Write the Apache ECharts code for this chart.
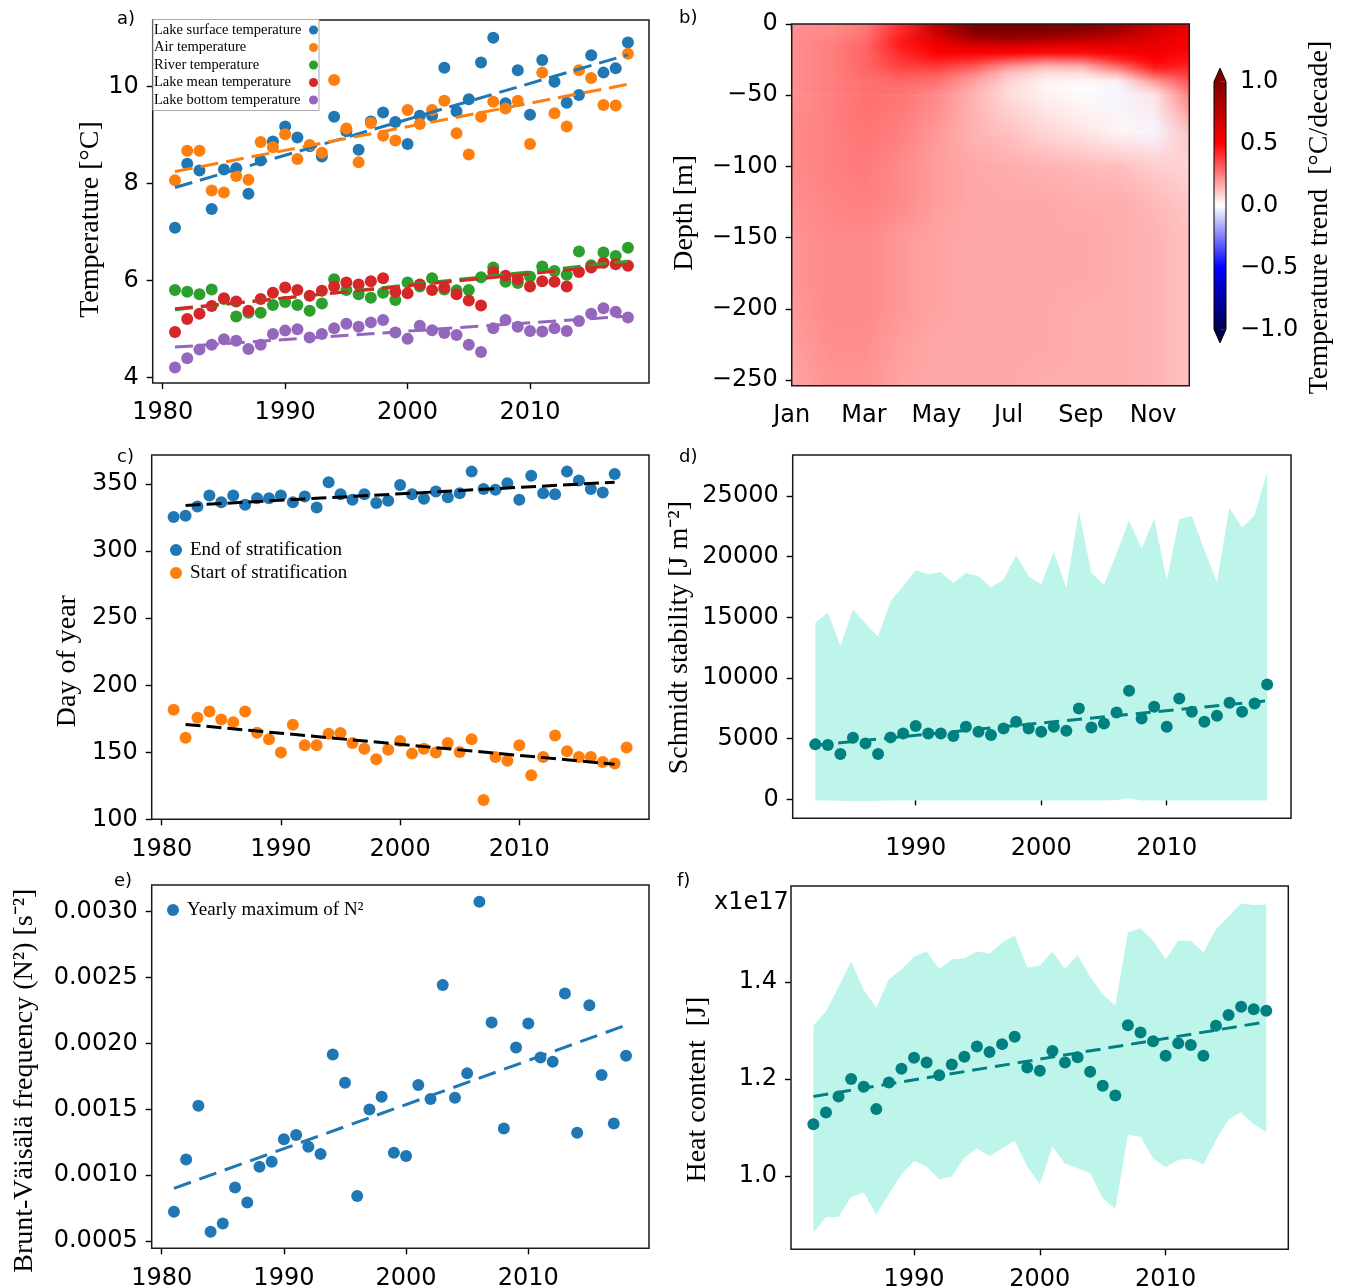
<!DOCTYPE html>
<html>
<head>
<meta charset="utf-8">
<script src="https://cdn.jsdelivr.net/npm/echarts@6.0.0/dist/echarts.min.js"></script>
<style>
html, body { margin: 0; padding: 0; background: #fff; }
#main { width: 1349px; height: 1288px; }
</style>
</head>
<body>
<div id="main"></div>
<script>
var SERIF = 'Liberation Serif', SANS = 'DejaVu Sans';

// ---- data ----
var years = [1981, 1982, 1983, 1984, 1985, 1986, 1987, 1988, 1989, 1990, 1991, 1992, 1993, 1994, 1995, 1996, 1997, 1998, 1999,
  2000, 2001, 2002, 2003, 2004, 2005, 2006, 2007, 2008, 2009, 2010, 2011, 2012, 2013, 2014, 2015, 2016, 2017, 2018];
var years82 = years.slice(1);
var years19 = years.concat([2019]);

// a) temperatures [°C]
var surfaceT = [7.09, 8.41, 8.27, 7.48, 8.29, 8.32, 7.79, 8.48, 8.87, 9.18, 8.95, 8.77, 8.56, 9.38, 9.08, 8.70, 9.28, 9.47, 9.27,
  8.82, 9.40, 9.40, 10.39, 9.49, 9.74, 10.50, 11.01, 9.66, 10.34, 9.42, 10.55, 10.10, 9.67, 9.83, 10.65, 10.29, 10.38, 10.91];
var airT = [8.07, 8.68, 8.68, 7.86, 7.82, 8.16, 8.08, 8.86, 8.75, 9.02, 8.51, 8.80, 8.64, 10.14, 9.14, 8.44, 9.25, 8.99, 8.89,
  9.52, 9.23, 9.52, 9.71, 9.04, 8.60, 9.38, 9.69, 9.55, 9.71, 8.82, 10.29, 9.45, 9.18, 10.34, 10.18, 9.62, 9.61, 10.68];
var riverT = [5.81, 5.77, 5.72, 5.82, 5.62, 5.26, 5.34, 5.34, 5.50, 5.56, 5.50, 5.38, 5.53, 6.03, 5.81, 5.72, 5.65, 5.75, 5.60,
  5.96, 5.88, 6.05, 5.82, 5.80, 5.81, 6.07, 6.27, 5.98, 5.95, 6.08, 6.29, 6.20, 6.12, 6.60, 6.32, 6.58, 6.51, 6.68];
var meanT = [4.94, 5.21, 5.32, 5.48, 5.64, 5.57, 5.38, 5.62, 5.75, 5.86, 5.81, 5.69, 5.79, 5.88, 5.96, 5.92, 5.99, 6.05, 5.77,
  5.74, 5.92, 5.81, 5.86, 5.72, 5.59, 5.49, 6.18, 6.10, 6.03, 5.88, 5.99, 5.98, 5.88, 6.18, 6.27, 6.37, 6.34, 6.31];
var bottomT = [4.21, 4.40, 4.58, 4.68, 4.79, 4.76, 4.59, 4.68, 4.90, 4.97, 5.00, 4.83, 4.90, 5.02, 5.11, 5.05, 5.14, 5.19, 4.93,
  4.80, 5.07, 4.98, 4.92, 4.88, 4.68, 4.53, 5.02, 5.19, 5.05, 4.96, 4.95, 5.02, 4.96, 5.17, 5.32, 5.43, 5.36, 5.24];
// trend line ends (1981, 2018)
var surfaceFit = [7.92, 10.66];
var airFit = [8.25, 10.05];
var riverFit = [5.40, 6.40];
var meanFit = [5.42, 6.34];
var bottomFit = [4.63, 5.27];

// b) temperature trend [°C/decade], month x depth
var months = ['Jan', 'Feb', 'Mar', 'Apr', 'May', 'Jun', 'Jul', 'Aug', 'Sep', 'Oct', 'Nov', 'Dec'];
var depthUpper = [0, 5, 10, 15, 20, 25, 30, 35, 40, 45, 50];
var trendUpper = [
  [0.22, 0.22, 0.26, 0.42, 0.75, 1.00, 1.10, 1.05, 1.00, 0.90, 0.70, 0.55],
  [0.22, 0.23, 0.27, 0.42, 0.72, 1.00, 1.05, 1.00, 0.95, 0.85, 0.68, 0.55],
  [0.22, 0.24, 0.28, 0.45, 0.62, 0.85, 0.90, 0.85, 0.78, 0.72, 0.62, 0.52],
  [0.22, 0.25, 0.30, 0.45, 0.55, 0.65, 0.65, 0.62, 0.60, 0.60, 0.58, 0.50],
  [0.22, 0.25, 0.30, 0.42, 0.50, 0.52, 0.50, 0.48, 0.48, 0.52, 0.55, 0.48],
  [0.22, 0.25, 0.30, 0.40, 0.45, 0.42, 0.35, 0.30, 0.32, 0.42, 0.50, 0.46],
  [0.22, 0.25, 0.30, 0.37, 0.38, 0.32, 0.20, 0.14, 0.15, 0.28, 0.45, 0.43],
  [0.22, 0.25, 0.29, 0.33, 0.32, 0.24, 0.12, 0.06, 0.06, 0.14, 0.34, 0.39],
  [0.22, 0.25, 0.28, 0.30, 0.28, 0.19, 0.09, 0.03, 0.02, 0.03, 0.20, 0.34],
  [0.22, 0.25, 0.28, 0.28, 0.25, 0.16, 0.07, 0.02, 0.00, -0.02, 0.11, 0.30],
  [0.22, 0.25, 0.28, 0.27, 0.23, 0.15, 0.07, 0.03, 0.01, -0.02, 0.05, 0.25]
];
var depthLower = [50, 75, 100, 125, 150, 175, 200, 225, 250];
var trendLower = [
  [0.22, 0.25, 0.28, 0.27, 0.23, 0.15, 0.07, 0.03, 0.01, -0.02, 0.05, 0.25],
  [0.23, 0.25, 0.27, 0.25, 0.20, 0.15, 0.12, 0.08, 0.05, 0.02, -0.02, 0.12],
  [0.23, 0.25, 0.26, 0.23, 0.19, 0.17, 0.16, 0.15, 0.14, 0.13, 0.10, 0.08],
  [0.22, 0.24, 0.25, 0.23, 0.19, 0.17, 0.17, 0.17, 0.16, 0.16, 0.14, 0.11],
  [0.21, 0.23, 0.23, 0.20, 0.18, 0.17, 0.17, 0.17, 0.17, 0.16, 0.15, 0.12],
  [0.21, 0.23, 0.23, 0.20, 0.18, 0.17, 0.17, 0.17, 0.17, 0.16, 0.15, 0.12],
  [0.20, 0.23, 0.23, 0.20, 0.18, 0.17, 0.17, 0.17, 0.16, 0.16, 0.15, 0.12],
  [0.19, 0.22, 0.22, 0.19, 0.17, 0.17, 0.17, 0.17, 0.16, 0.16, 0.15, 0.12],
  [0.18, 0.21, 0.21, 0.18, 0.17, 0.17, 0.17, 0.16, 0.16, 0.16, 0.15, 0.12]
];
var cbTicks = [-1, -0.5, 0, 0.5, 1];

// c) stratification day of year
var endStrat = [325.5, 326.5, 333.4, 341.6, 336.6, 341.6, 334.7, 339.6, 339.6, 341.6, 336.6, 340.8, 332.7, 351.5, 342.6, 338.4,
  342.6, 335.9, 337.6, 349.5, 342.6, 339.1, 344.6, 340.3, 343.3, 359.4, 346.5, 345.8, 350.7, 338.4, 356.4, 343.3, 342.6, 359.4,
  352.7, 346.5, 343.8, 357.7];
var startStrat = [181.7, 160.9, 175.7, 180.4, 174.5, 172.5, 180.4, 164.6, 159.7, 149.8, 170.5, 155.2, 155.2, 163.9, 164.4, 156.9,
  152.7, 144.8, 151.9, 158.4, 149.0, 152.7, 149.8, 156.9, 150.2, 159.7, 114.4, 146.5, 143.6, 155.2, 132.9, 146.5, 162.6, 150.7,
  146.5, 146.5, 142.8, 141.6, 153.5];
var endFit = [334.2, 351.5];     // 1982, 2018
var startFit = [170.8, 141.1];   // 1982, 2018

// d) Schmidt stability [J m-2], 1982-2018
var schmidt = [4528, 4473, 3732, 5076, 4610, 3732, 5104, 5433, 6037, 5433, 5433, 5214, 5982, 5570, 5296, 5845, 6394, 5845, 5570,
  5982, 5652, 7491, 5927, 6256, 7162, 8945, 6668, 7628, 5982, 8314, 7217, 6394, 6887, 7958, 7217, 7903, 9467];
var schmidtHi = [14543, 15394, 12650, 15641, 14488, 13391, 16327, 17589, 18879, 18550, 18742, 17836, 18659, 18385, 17452, 18110,
  20113, 18385, 17726, 20388, 17424, 23736, 18659, 17699, 20251, 22995, 20662, 23132, 18055, 23077, 23352, 20525, 17918, 24037,
  22391, 23406, 26973];
var schmidtLo = [-100, -100, -110, -150, -130, -110, -100, -100, -100, -100, -100, -100, -100, -100, -100, -100, -100, -100, -90,
  -100, -100, -100, -100, -100, -60, 80, -90, -100, -100, -100, -100, -100, -100, -100, -100, -100, -100];
var schmidtFit = [4450, 8120];

// e) yearly maximum of N2 [s-2]
var n2max = [0.000723, 0.001120, 0.001527, 0.000571, 0.000634, 0.000907, 0.000793, 0.001064, 0.001102, 0.001272, 0.001305,
  0.001216, 0.001160, 0.001917, 0.001702, 0.000842, 0.001499, 0.001596, 0.001170, 0.001145, 0.001684, 0.001578, 0.002443,
  0.001588, 0.001773, 0.003076, 0.002160, 0.001355, 0.001970, 0.002152, 0.001894, 0.001861, 0.002380, 0.001322, 0.002291,
  0.001760, 0.001393, 0.001907];
var n2Fit = [0.000900, 0.002139];

// f) heat content [x1e17 J], 1982-2018
var heat = [1.107, 1.131, 1.164, 1.200, 1.184, 1.138, 1.193, 1.221, 1.244, 1.234, 1.208, 1.230, 1.246, 1.267, 1.256, 1.272, 1.287,
  1.224, 1.217, 1.258, 1.234, 1.245, 1.215, 1.186, 1.166, 1.311, 1.296, 1.278, 1.248, 1.274, 1.270, 1.248, 1.310, 1.332, 1.349,
  1.344, 1.341];
var heatHi = [1.310, 1.340, 1.390, 1.442, 1.384, 1.347, 1.406, 1.426, 1.452, 1.463, 1.427, 1.447, 1.449, 1.463, 1.459, 1.481,
  1.496, 1.430, 1.434, 1.463, 1.427, 1.456, 1.411, 1.375, 1.351, 1.502, 1.511, 1.485, 1.447, 1.485, 1.485, 1.461, 1.509, 1.535,
  1.562, 1.559, 1.560];
var heatLo = [0.883, 0.915, 0.916, 0.957, 0.966, 0.921, 0.963, 1.003, 1.031, 1.019, 0.993, 0.999, 1.038, 1.057, 1.041, 1.057,
  1.073, 1.019, 0.983, 1.061, 1.026, 1.016, 1.006, 0.955, 0.932, 1.085, 1.081, 1.036, 1.018, 1.033, 1.036, 1.024, 1.074, 1.117,
  1.131, 1.107, 1.091];
var heatFit = [1.164, 1.318];

// ---- helpers ----
function pairs(xs, ys) { return xs.map(function (x, i) { return [x, ys[i]]; }); }

function seismic(v) {
  var st = [[0, 0, 77], [0, 0, 255], [255, 255, 255], [255, 0, 0], [128, 0, 0]];
  var t = Math.max(0, Math.min(1, (v + 1) / 2)) * 4;
  var k = Math.min(3, Math.floor(t)), f = t - k;
  var a = st[k], b = st[k + 1];
  return [a[0] + (b[0] - a[0]) * f, a[1] + (b[1] - a[1]) * f, a[2] + (b[2] - a[2]) * f];
}

function makeCanvas(rows) {
  var c = document.createElement('canvas');
  c.width = rows[0].length; c.height = rows.length;
  var ctx = c.getContext('2d');
  var img = ctx.createImageData(c.width, c.height);
  rows.forEach(function (row, j) {
    row.forEach(function (v, i) {
      var col = seismic(v), k = (j * c.width + i) * 4;
      img.data[k] = Math.round(col[0]); img.data[k + 1] = Math.round(col[1]);
      img.data[k + 2] = Math.round(col[2]); img.data[k + 3] = 255;
    });
  });
  ctx.putImageData(img, 0, 0);
  return c;
}

var heatBlocks = [
  { depths: depthUpper, rows: trendUpper },
  { depths: depthLower, rows: trendLower }
];
heatBlocks.forEach(function (b) { b.canvas = makeCanvas(b.rows); });

function renderHeat(params, api) {
  var b = heatBlocks[params.dataIndex];
  var d = b.depths, n = d.length, step = d[1] - d[0];
  var p0 = api.coord([-0.5, -(d[0] - step / 2)]);
  var p1 = api.coord([months.length - 0.5, -(d[n - 1] + step / 2)]);
  var cs = params.coordSys;
  var yTop = params.dataIndex === 0 ? cs.y : api.coord([0, -d[0]])[1];
  var yBot = params.dataIndex === 0 ? api.coord([0, -d[n - 1]])[1] + 0.6 : cs.y + cs.height;
  return {
    type: 'group',
    clipPath: { type: 'rect', shape: { x: cs.x, y: yTop, width: cs.width, height: yBot - yTop } },
    children: [{ type: 'image', style: { image: b.canvas, x: p0[0], y: p0[1], width: p1[0] - p0[0], height: p1[1] - p0[1] } }]
  };
}

function renderColorbar(params, api) {
  var lo = api.coord([0, cbTicks[0]]);
  var hi = api.coord([1, cbTicks[cbTicks.length - 1]]);
  var x0 = lo[0], x1 = hi[0], yB = lo[1], yT = hi[1], xm = (x0 + x1) / 2, ext = 13.5;
  var grad = new echarts.graphic.LinearGradient(0, 1, 0, 0, [
    { offset: 0, color: '#00004d' }, { offset: 0.25, color: '#0000ff' }, { offset: 0.5, color: '#ffffff' },
    { offset: 0.75, color: '#ff0000' }, { offset: 1, color: '#800000' }
  ]);
  return {
    type: 'group',
    children: [
      { type: 'rect', shape: { x: x0, y: yT, width: x1 - x0, height: yB - yT }, style: { fill: grad } },
      { type: 'polygon', shape: { points: [[x0, yT], [x1, yT], [xm, yT - ext]] }, style: { fill: '#800000' } },
      { type: 'polygon', shape: { points: [[x0, yB], [x1, yB], [xm, yB + ext]] }, style: { fill: '#00004d' } },
      { type: 'polygon', shape: { points: [[xm, yB + ext], [x0, yB], [x0, yT], [xm, yT - ext], [x1, yT], [x1, yB]] },
        style: { fill: 'none', stroke: '#000', lineWidth: 1 } }
    ]
  };
}

function bandRenderer(xs, lo, hi, color) {
  return function (params, api) {
    if (params.dataIndex !== 0) return null;
    var pts = [], i;
    for (i = 0; i < xs.length; i++) pts.push(api.coord([xs[i], hi[i]]));
    for (i = xs.length - 1; i >= 0; i--) pts.push(api.coord([xs[i], lo[i]]));
    return { type: 'polygon', shape: { points: pts }, style: { fill: color } };
  };
}

var tickFont = { fontFamily: SANS, fontSize: 24, color: '#000' };

function xAx(gi, min, max, ticks, fmt) {
  return {
    type: 'value', gridIndex: gi, min: min, max: max,
    axisLine: { show: false }, splitLine: { show: false },
    axisTick: { show: true, inside: false, length: 6, lineStyle: { color: '#000', width: 1.4 }, customValues: ticks },
    axisLabel: Object.assign({ customValues: ticks, margin: 18, formatter: fmt || function (v) { return String(v); } }, tickFont)
  };
}

function yAx(gi, min, max, ticks, fmt, name, gap, shift, pos) {
  return {
    type: 'value', gridIndex: gi, min: min, max: max, position: pos || 'left',
    name: name, nameLocation: 'middle', nameGap: gap,
    nameTextStyle: { fontFamily: SERIF, fontSize: 28, color: '#000', padding: [0, 2 * shift, 0, 0] },
    axisLine: { show: false }, splitLine: { show: false },
    axisTick: { show: true, inside: false, length: 6, lineStyle: { color: '#000', width: 1.4 }, customValues: ticks },
    axisLabel: Object.assign({ customValues: ticks, margin: 14, formatter: fmt || function (v) { return String(v); } }, tickFont)
  };
}

function minus(v, d) { var s = Math.abs(v).toFixed(d); return v < 0 ? '\u2212' + s : s; }

function scatter(name, xi, xs, ys, color, z) {
  return { name: name, type: 'scatter', xAxisIndex: xi, yAxisIndex: xi, data: pairs(xs, ys), symbolSize: 12,
    itemStyle: { color: color, opacity: 1 }, z: z || 2 };
}
function fit(xi, x0, x1, ends, color, dash, z) {
  return { name: 'fit', type: 'line', xAxisIndex: xi, yAxisIndex: xi, data: [[x0, ends[0]], [x1, ends[1]]],
    showSymbol: false, symbol: 'none', silent: true, z: z || 3,
    lineStyle: { color: color, width: 3, type: dash } };
}

var C = { blue: '#1f77b4', orange: '#ff7f0e', green: '#2ca02c', red: '#d62728', purple: '#9467bd', teal: '#008080', band: '#bef5ea' };
var namesA = ['Lake surface temperature', 'Air temperature', 'River temperature', 'Lake mean temperature', 'Lake bottom temperature'];

var grids = [
  { left: 152.7, top: 20, width: 496.3, height: 363 },
  { left: 791.7, top: 24, width: 397.6, height: 361.7 },
  { left: 151.7, top: 455, width: 497.3, height: 364.3 },
  { left: 792.7, top: 455, width: 498.3, height: 363.3 },
  { left: 151.7, top: 885, width: 497.3, height: 363.3 },
  { left: 791, top: 886, width: 497.3, height: 363.3 },
  { left: 1214, top: 81.7, width: 12, height: 247.6, show: false }
].map(function (g) {
  return Object.assign({ show: true, borderColor: '#1a1a1a', borderWidth: 1.5, z: 10, outerBoundsMode: 'none' }, g);
});

var yearFmt = function (v) { return String(v); };

var option = {
  animation: false,
  backgroundColor: '#fff',
  title: [
    { text: 'a)', left: 117, top: 10 }, { text: 'b)', left: 679, top: 9 },
    { text: 'c)', left: 117, top: 448 }, { text: 'd)', left: 679, top: 448 },
    { text: 'e)', left: 114, top: 872 }, { text: 'f)', left: 677, top: 872 }
  ].map(function (t) {
    return Object.assign({ padding: 0, textStyle: { fontFamily: SANS, fontSize: 18, fontWeight: 'normal', color: '#000' } }, t);
  }),
  grid: grids,
  legend: [
    {
      data: namesA, left: 153, top: 19.5, orient: 'vertical', align: 'right', icon: 'circle',
      itemWidth: 9, itemHeight: 9, itemGap: 2.5, padding: [3, 1, 3, 1],
      backgroundColor: '#fff', borderColor: '#aaa', borderWidth: 1, borderRadius: 0, z: 12,
      formatter: function (n) { return '{w|' + n + '}'; },
      textStyle: { fontFamily: SERIF, fontSize: 14.5, color: '#000',
        rich: { w: { width: 150, align: 'left', fontFamily: SERIF, fontSize: 14.5, lineHeight: 12, color: '#000' } } }
    },
    {
      data: ['End of stratification', 'Start of stratification'], left: 170, top: 540.5, orient: 'vertical', icon: 'circle',
      itemWidth: 12, itemHeight: 12, itemGap: 4, padding: 0,
      formatter: function (n) { return '{t|' + n + '}'; },
      textStyle: { fontFamily: SERIF, fontSize: 19, color: '#000',
        rich: { t: { padding: [0, 0, 0, 3], fontFamily: SERIF, fontSize: 19, lineHeight: 19, color: '#000' } } }
    },
    {
      data: ['Yearly maximum of N\u00b2'], left: 167, top: 900.5, orient: 'vertical', icon: 'circle',
      itemWidth: 12, itemHeight: 12, padding: 0,
      formatter: function (n) { return '{t|' + n + '}'; },
      textStyle: { fontFamily: SERIF, fontSize: 19, color: '#000',
        rich: { t: { padding: [0, 0, 0, 3], fontFamily: SERIF, fontSize: 19, lineHeight: 19, color: '#000' } } }
    }
  ],
  xAxis: [
    xAx(0, 1979.18, 2019.72, [1980, 1990, 2000, 2010], yearFmt),
    xAx(1, 0, 11, [0, 2, 4, 6, 8, 10], function (v) { return months[v]; }),
    xAx(2, 1979.16, 2020.88, [1980, 1990, 2000, 2010], yearFmt),
    xAx(3, 1980.2, 2019.9, [1990, 2000, 2010], yearFmt),
    xAx(4, 1979.18, 2019.88, [1980, 1990, 2000, 2010], yearFmt),
    xAx(5, 1980.22, 2019.75, [1990, 2000, 2010], yearFmt),
    { type: 'value', gridIndex: 6, min: 0, max: 1, show: false }
  ],
  yAxis: [
    yAx(0, 3.89, 11.375, [4, 6, 8, 10], null, 'Temperature [\u00b0C]', 39, 18),
    yAx(1, -254, 0, [0, -50, -100, -150, -200, -250], function (v) { return minus(v, 0); }, 'Depth [m]', 93, 8),
    yAx(2, 100, 371.8, [100, 150, 200, 250, 300, 350], null, 'Day of year', 70, 24),
    yAx(3, -1565, 28377, [0, 5000, 10000, 15000, 20000, 25000], null, 'Schmidt stability [J m\u207b\u00b2]', 99, 1),
    yAx(4, 0.000445, 0.003203, [0.0005, 0.001, 0.0015, 0.002, 0.0025, 0.003], function (v) { return v.toFixed(4); },
      'Brunt-V\u00e4is\u00e4l\u00e4 frequency (N\u00b2) [s\u207b\u00b2]', 113, 14),
    yAx(5, 0.849, 1.598, [1.0, 1.2, 1.4], function (v) { return v.toFixed(1); }, 'Heat content  [J]', 79, 22),
    yAx(6, -1, 1, cbTicks, function (v) { return minus(v, 1); }, 'Temperature trend  [\u00b0C/decade]', 80, 12, 'right')
  ],
  graphic: [
    { type: 'text', left: 714, top: 891, style: { text: 'x1e17', font: '24px "DejaVu Sans"', fill: '#000' } }
  ],
  series: [
    // a
    scatter(namesA[0], 0, years, surfaceT, C.blue),
    scatter(namesA[1], 0, years, airT, C.orange),
    scatter(namesA[2], 0, years, riverT, C.green),
    scatter(namesA[3], 0, years, meanT, C.red),
    scatter(namesA[4], 0, years, bottomT, C.purple),
    fit(0, 1981, 2018, surfaceFit, C.blue, [18, 8]),
    fit(0, 1981, 2018, airFit, C.orange, [18, 8]),
    fit(0, 1981, 2018, riverFit, C.green, [18, 8]),
    fit(0, 1981, 2018, meanFit, C.red, [18, 8]),
    fit(0, 1981, 2018, bottomFit, C.purple, [18, 8]),
    // b
    { type: 'custom', xAxisIndex: 1, yAxisIndex: 1, renderItem: renderHeat, data: [[0, 0], [1, 0]], silent: true, z: 1 },
    { type: 'custom', xAxisIndex: 6, yAxisIndex: 6, renderItem: renderColorbar, data: [[0, 0]], silent: true },
    // c
    scatter('End of stratification', 2, years, endStrat, C.blue),
    scatter('Start of stratification', 2, years19, startStrat, C.orange),
    fit(2, 1982, 2018, endFit, '#000', [15, 6]),
    fit(2, 1982, 2018, startFit, '#000', [15, 6]),
    // d
    { type: 'custom', xAxisIndex: 3, yAxisIndex: 3, renderItem: bandRenderer(years82, schmidtLo, schmidtHi, C.band),
      data: years82.map(function (y, i) { return [y, schmidtLo[i], schmidtHi[i]]; }), silent: true, z: 1 },
    fit(3, 1982, 2018, schmidtFit, C.teal, [15, 8], 2),
    scatter('Schmidt stability', 3, years82, schmidt, C.teal, 3),
    // e
    scatter('Yearly maximum of N\u00b2', 4, years, n2max, C.blue),
    fit(4, 1981, 2018, n2Fit, C.blue, [18, 9]),
    // f
    { type: 'custom', xAxisIndex: 5, yAxisIndex: 5, renderItem: bandRenderer(years82, heatLo, heatHi, C.band),
      data: years82.map(function (y, i) { return [y, heatLo[i], heatHi[i]]; }), silent: true, z: 1 },
    fit(5, 1982, 2018, heatFit, C.teal, [15, 8], 2),
    scatter('Heat content', 5, years82, heat, C.teal, 3)
  ]
};

var chart = echarts.init(document.getElementById('main'));
chart.setOption(option);
</script>
</body>
</html>
